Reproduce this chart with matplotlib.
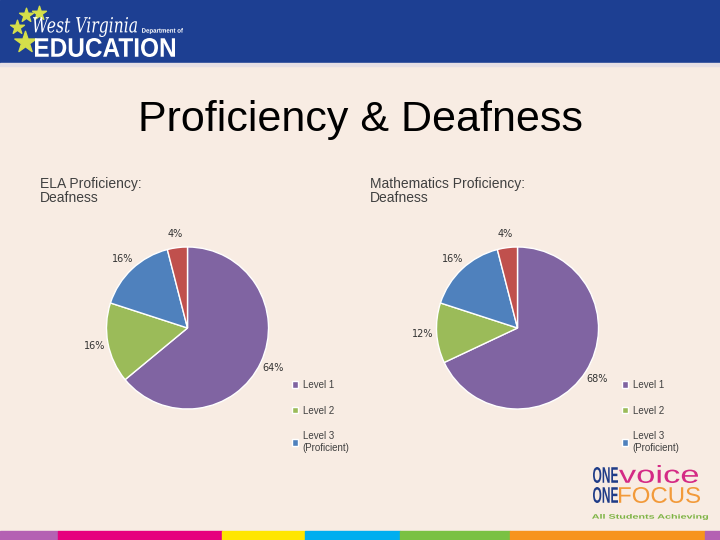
import matplotlib.pyplot as plt
from matplotlib.patches import Rectangle, PathPatch
from matplotlib.textpath import TextPath
from matplotlib.font_manager import FontProperties
from matplotlib.transforms import Affine2D

plt.rcParams['font.family'] = ['Liberation Sans', 'DejaVu Sans']

# chart data
levels = ['Level 1', 'Level 2', 'Level 3\n(Proficient)', 'Level 4']
ela = [64, 16, 16, 4]
math = [68, 12, 16, 4]
pie_colors = ['#8064a2', '#9bbb59', '#4f81bd', '#c0504d']

# coloured stripe at the bottom of the slide
stripe_edges = [0, 58, 222, 305, 400, 510, 705, 720]
stripe_colors = ['#b461b3', '#e6007e', '#ffe600', '#00aeef', '#7ac143', '#f7941d', '#b461b3']

W, H = 720, 540

fig = plt.figure(figsize=(7.2, 5.4), dpi=100)
fig.patch.set_facecolor('#f8ece3')
bg = fig.add_axes([0, 0, 1, 1])
bg.set_xlim(0, W)
bg.set_ylim(H, 0)
bg.axis('off')


def logo_text(s, x, y, w, h, color, weight='normal', style='normal', family='Liberation Sans'):
    # squeeze a text outline into a pixel box (top left corner x, y)
    tp = TextPath((0, 0), s, size=10, prop=FontProperties(family=family, weight=weight, style=style))
    ext = tp.get_extents()
    tr = (Affine2D().translate(-ext.x0, -ext.y0)
          .scale(w / ext.width, -h / ext.height)
          .translate(x, y + h))
    bg.add_patch(PathPatch(tr.transform_path(tp), color=color, lw=0, zorder=4))


# header band + WV logo
bg.add_patch(Rectangle((0, 0), W, 63, color='#1d3f92'))
bg.add_patch(Rectangle((0, 63), W, 3, color='#e6dfe4'))
bg.scatter([26, 39, 17], [15, 13, 27], marker='*', s=110, color='#d5df4a', zorder=3)
bg.scatter([25], [42], marker='*', s=260, color='#d5df4a', zorder=3)
logo_text('West Virginia', 33, 17, 104, 20, 'white', style='italic', family='DejaVu Serif')
logo_text('Department of', 142, 28, 41, 6, 'white', weight='bold')
logo_text('EDUCATION', 35, 38, 140, 19, 'white', weight='bold')

# one voice logo
logo_text('ONE', 593, 467, 25, 16, '#1f3c88', weight='bold')
logo_text('voice', 619, 465, 79, 18, '#d42a85')
logo_text('ONE', 593, 487, 25, 16, '#1f3c88', weight='bold')
logo_text('FOCUS', 619, 487, 81, 16, '#f29a3a')
logo_text('All Students Achieving', 592, 514, 116, 6, '#7cb342', weight='bold')

for i in range(len(stripe_colors)):
    bg.add_patch(Rectangle((stripe_edges[i], 531), stripe_edges[i + 1] - stripe_edges[i], 9,
                           color=stripe_colors[i]))

# titles
bg.text(360, 131, 'Proficiency & Deafness', ha='center', va='baseline', fontsize=31, color='black')
bg.text(40, 177, 'ELA Proficiency:\nDeafness', fontsize=10, color='#404040', va='top', linespacing=1.0)
bg.text(370, 177, 'Mathematics Proficiency:\nDeafness', fontsize=10, color='#404040', va='top', linespacing=1.0)


def pie_axes(cx, cy, r):
    size = 2.5 * r
    return fig.add_axes([(cx - size / 2) / W, (H - cy - size / 2) / H, size / W, size / H])


def draw_pie(ax, vals, lx, ly):
    wedges, texts, pcts = ax.pie(vals, colors=pie_colors, startangle=90, counterclock=False,
                                 autopct=lambda p: '%.0f%%' % p, pctdistance=1.17,
                                 wedgeprops=dict(edgecolor='white', linewidth=1),
                                 textprops=dict(fontsize=7, color='#333333', family='DejaVu Sans'))
    ax.legend(wedges[:3], levels[:3], loc='upper left', bbox_to_anchor=(lx / W, 1 - ly / H),
              bbox_transform=fig.transFigure, frameon=False, fontsize=7, labelcolor='#404040',
              handlelength=0.6, handleheight=0.6, handletextpad=0.5, labelspacing=1.6,
              borderpad=0, borderaxespad=0)


ax1 = pie_axes(187.5, 328, 81)
draw_pie(ax1, ela, 292, 380)

ax2 = pie_axes(517.5, 328, 81)
draw_pie(ax2, math, 622, 380)

fig.savefig('out.png', dpi=100, facecolor=fig.get_facecolor())
